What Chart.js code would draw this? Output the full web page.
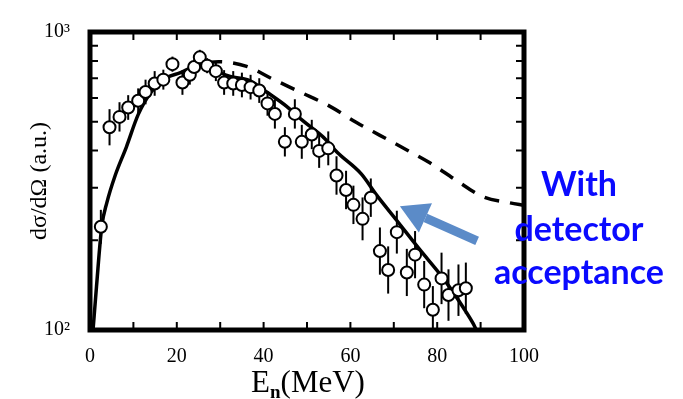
<!DOCTYPE html>
<html>
<head>
<meta charset="utf-8">
<script src="https://cdn.jsdelivr.net/npm/chart.js@4.4.1/dist/chart.umd.min.js"></script>
<style>
  html, body { margin:0; padding:0; background:#fff; }
</style>
</head>
<body>
<canvas id="c" width="683" height="399"></canvas>
<script>
// measured points (open circles)
const energy = [2.5, 4.5, 6.8, 8.8, 11.1, 12.8, 14.9, 16.9, 19.0, 21.3, 23.0, 24.0, 25.3, 27.0,
  29.0, 30.9, 33.0, 35.0, 37.0, 39.0, 40.9, 42.6, 44.9, 47.2, 48.8, 51.1, 52.8, 54.9, 56.8,
  59.0, 60.7, 62.8, 64.7, 66.8, 68.7, 70.7, 73.0, 74.9, 77.0, 79.0, 81.0, 82.6, 84.9, 86.6];
const dsigma = [222, 479, 519, 558, 588, 629, 672, 692, 780, 677, 719, 763, 822, 771,
  739, 677, 672, 664, 653, 636, 576, 531, 428, 531, 428, 453, 399, 407, 330,
  295, 263, 236, 278, 184, 159, 213, 156, 179, 142, 117, 149, 131, 136, 138];
const relErr = [0.14, 0.15, 0.12, 0.10, 0.10, 0.10, 0.10, 0.08, 0.06, 0.10, 0.08, 0.06, 0.06, 0.06,
  0.08, 0.10, 0.10, 0.10, 0.10, 0.10, 0.10, 0.12, 0.12, 0.12, 0.14, 0.12, 0.14, 0.14, 0.16,
  0.16, 0.16, 0.18, 0.16, 0.20, 0.20, 0.18, 0.20, 0.20, 0.20, 0.20, 0.22, 0.22, 0.22, 0.22];

// solid curve: with detector acceptance
const accE = [0.7, 1.5, 2.7, 3.9, 5.8, 8.4, 11.1, 14.1, 17.6, 20.7, 24.1, 26, 28, 32.3, 36.9,
  40.7, 45.3, 49.1, 53.8, 57, 62.5, 66, 70.7, 76, 81.4, 86, 88.3, 89];
const accCurve = [100, 140, 222, 268, 330, 412, 528, 629, 702, 729, 767, 775, 750, 710, 686,
  629, 563, 503, 443, 394, 334, 284, 233, 186, 149, 119, 105, 100];

// dashed curve: without acceptance
const noAccE = [27, 29.6, 36.1, 42.2, 48.4, 55.3, 61.5, 66.8, 73, 78.3, 84.5, 90.6, 96.8, 100];
const noAccCurve = [790, 795, 767, 694, 629, 563, 496, 450, 402, 364, 317, 280, 267, 262];

const xLabels = [0, 20, 40, 60, 80, 100];
const xMinor = [10, 20, 30, 40, 50, 60, 70, 80, 90];
const yMinor = [200, 300, 400, 500, 600, 700, 800, 900];
const yLabels = {100: '10²', 1000: '10³'};
const noteLines = ['With', 'detector', 'acceptance'];
const arrowFrom = {x: 89.2, y: 199};
const arrowTo = {x: 71.4, y: 260};

const serif = "'Liberation Serif', 'DejaVu Serif', serif";

const toXY = (xs, ys) => xs.map((x, i) => ({x, y: ys[i]}));

const decor = {
  id: 'decor',
  beforeDatasetsDraw(chart) {
    const {ctx, chartArea: a, scales: {x, y}} = chart;
    ctx.save();
    ctx.beginPath();
    ctx.rect(a.left, a.top, a.right - a.left, a.bottom - a.top);
    ctx.clip();
    ctx.strokeStyle = '#000';
    ctx.lineWidth = 2;
    energy.forEach((e, i) => {
      const px = x.getPixelForValue(e);
      ctx.beginPath();
      ctx.moveTo(px, y.getPixelForValue(dsigma[i] * (1 + relErr[i])));
      ctx.lineTo(px, y.getPixelForValue(dsigma[i] / (1 + relErr[i])));
      ctx.stroke();
    });
    ctx.restore();
  },
  afterDatasetsDraw(chart) {
    const {ctx, chartArea: a, scales: {x, y}} = chart;
    ctx.save();
    ctx.strokeStyle = '#000';
    ctx.lineWidth = 2;
    const tl = 8;
    xMinor.forEach(v => {
      const px = x.getPixelForValue(v);
      ctx.beginPath();
      ctx.moveTo(px, a.bottom); ctx.lineTo(px, a.bottom - tl);
      ctx.moveTo(px, a.top); ctx.lineTo(px, a.top + tl);
      ctx.stroke();
    });
    yMinor.forEach(v => {
      const py = y.getPixelForValue(v);
      ctx.beginPath();
      ctx.moveTo(a.left, py); ctx.lineTo(a.left + tl, py);
      ctx.moveTo(a.right, py); ctx.lineTo(a.right - tl, py);
      ctx.stroke();
    });
    ctx.lineWidth = 5;
    ctx.strokeRect(a.left, a.top, a.right - a.left, a.bottom - a.top);

    // x title E_n(MeV)
    ctx.fillStyle = '#000';
    ctx.textBaseline = 'alphabetic';
    ctx.font = '31px ' + serif;
    const wE = ctx.measureText('E').width;
    const wM = ctx.measureText('(MeV)').width;
    ctx.font = 'bold 19px ' + serif;
    const wn = ctx.measureText('n').width;
    const cx = (a.left + a.right) / 2 + 1;
    let tx = cx - (wE + wn + wM) / 2;
    const base = 392;
    ctx.font = '31px ' + serif;
    ctx.fillText('E', tx, base);
    ctx.font = 'bold 19px ' + serif;
    ctx.fillText('n', tx + wE, base + 6);
    ctx.font = '31px ' + serif;
    ctx.fillText('(MeV)', tx + wE + wn, base);

    // arrow
    const x1 = x.getPixelForValue(arrowFrom.x), y1 = y.getPixelForValue(arrowFrom.y);
    const x2 = x.getPixelForValue(arrowTo.x), y2 = y.getPixelForValue(arrowTo.y);
    const ang = Math.atan2(y2 - y1, x2 - x1);
    const head = 28, half = 16;
    const bx = x2 - head * Math.cos(ang), by = y2 - head * Math.sin(ang);
    ctx.strokeStyle = '#5b8bc8';
    ctx.fillStyle = '#5b8bc8';
    ctx.lineWidth = 9;
    ctx.lineCap = 'butt';
    ctx.beginPath();
    ctx.moveTo(x1, y1); ctx.lineTo(bx, by);
    ctx.stroke();
    ctx.beginPath();
    ctx.moveTo(x2, y2);
    ctx.lineTo(bx + half * Math.sin(ang), by - half * Math.cos(ang));
    ctx.lineTo(bx - half * Math.sin(ang), by + half * Math.cos(ang));
    ctx.closePath();
    ctx.fill();

    // note text
    ctx.fillStyle = '#0a0aff';
    ctx.font = "bold 34px 'Lato', 'Open Sans', sans-serif";
    ctx.textAlign = 'center';
    const noteX = 579;
    [196, 241, 284].forEach((yy, i) => ctx.fillText(noteLines[i], noteX, yy));
    ctx.restore();
  }
};

new Chart(document.getElementById('c'), {
  type: 'scatter',
  data: {
    datasets: [
      { label: 'data', data: toXY(energy, dsigma), order: 0,
        pointRadius: 6, pointHoverRadius: 6, pointBorderWidth: 2,
        pointBackgroundColor: '#fff', pointBorderColor: '#000', showLine: false },
      { label: 'with acceptance', data: toXY(accE, accCurve), order: 1,
        showLine: true, pointRadius: 0, borderColor: '#000', borderWidth: 3.5,
        cubicInterpolationMode: 'monotone' },
      { label: 'no acceptance', data: toXY(noAccE, noAccCurve), order: 2,
        showLine: true, pointRadius: 0, borderColor: '#000', borderWidth: 3.5,
        borderDash: [15, 11], cubicInterpolationMode: 'monotone' }
    ]
  },
  options: {
    responsive: false,
    animation: false,
    events: [],
    layout: { padding: { top: 21, right: 159, left: 0, bottom: 0 } },
    plugins: { legend: { display: false }, tooltip: { enabled: false } },
    scales: {
      x: {
        type: 'linear', min: 0, max: 100,
        afterBuildTicks: s => { s.ticks = xLabels.map(v => ({value: v})); },
        ticks: { color: '#000', font: { family: serif, size: 20 }, padding: 15, maxRotation: 0 },
        grid: { display: false, drawTicks: false },
        border: { display: false },
        afterFit: s => { s.height = 69; }
      },
      y: {
        type: 'logarithmic', min: 100, max: 1000,
        afterBuildTicks: s => { s.ticks = [{value: 100}, {value: 1000}]; },
        ticks: { color: '#000', font: { family: serif, size: 20 }, padding: 20,
          callback: v => yLabels[v] || '' },
        grid: { display: false, drawTicks: false },
        border: { display: false },
        title: { display: true, text: 'dσ/dΩ (a.u.)', color: '#000',
          font: { family: serif, size: 24 }, padding: { top: 25 } },
        afterFit: s => { s.width = 90; }
      }
    }
  },
  plugins: [decor]
});
</script>
</body>
</html>
